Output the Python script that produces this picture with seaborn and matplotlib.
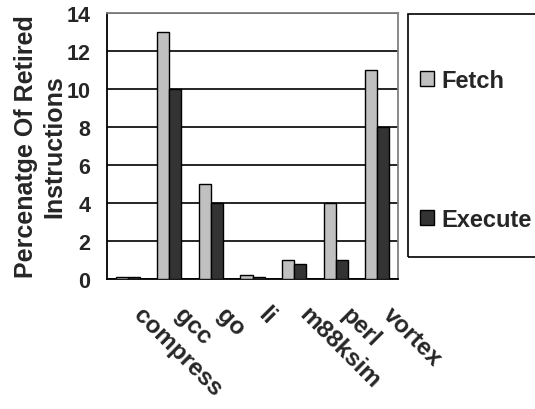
import pandas as pd
import seaborn as sns
import matplotlib.pyplot as plt
import matplotlib.transforms as mtransforms
from matplotlib.patches import Rectangle

# data
benchmarks = ['compress', 'gcc', 'go', 'li', 'm88ksim', 'perl', 'vortex']
fetch = [0.1, 13, 5, 0.2, 1.0, 4, 11]
execute = [0.1, 10, 4, 0.1, 0.8, 1, 8]
series = ['Fetch', 'Execute']
colors = ['#C0C0C0', '#333333']

df = pd.DataFrame({
    'bench': benchmarks * 2,
    'value': fetch + execute,
    'kind': ['Fetch'] * len(benchmarks) + ['Execute'] * len(benchmarks),
})

sns.set_style('white')
plt.rcParams['font.family'] = ['Liberation Sans', 'DejaVu Sans']
plt.rcParams['font.weight'] = 'bold'

fig = plt.figure(figsize=(5.35, 4.1), dpi=100)
ax = fig.add_axes([0.2, 0.317, 0.544, 0.649])

sns.barplot(data=df, x='bench', y='value', hue='kind', hue_order=series,
            palette=colors, width=0.58, edgecolor='black', linewidth=1,
            ax=ax, legend=False, zorder=3)

ax.set_ylim(0, 14)
ax.set_xlim(-0.5, len(benchmarks) - 0.5)
ax.set_yticks(range(0, 15, 2))
ax.yaxis.grid(True, color='black', linewidth=1.2, zorder=0)
ax.set_axisbelow(True)

# ticks between categories
ax.set_xticks(range(len(benchmarks)))
ax.set_xticks([i - 0.5 for i in range(len(benchmarks) + 1)], minor=True)
ax.tick_params(axis='x', which='major', length=0, pad=17)
ax.tick_params(axis='x', which='minor', length=6, width=1.3, color='black', direction='out')
ax.tick_params(axis='y', length=7, width=1.3, color='black', direction='out', labelsize=15.5, pad=5)
ax.set_xticklabels(benchmarks, rotation=-45, ha='left', va='top',
                   rotation_mode='anchor', fontsize=17.5, fontweight='bold')
shift = mtransforms.ScaledTranslation(17 / 100, 0, fig.dpi_scale_trans)
for t in ax.get_xticklabels():
    t.set_transform(t.get_transform() + shift)
for t in ax.get_yticklabels():
    t.set_fontweight('bold')

for s in ['left', 'bottom']:
    ax.spines[s].set_color('black')
    ax.spines[s].set_linewidth(1.3)
for s in ['top', 'right']:
    ax.spines[s].set_color('#808080')
    ax.spines[s].set_linewidth(1.3)

ax.set_xlabel('')
ax.set_ylabel('Percenatge Of Retired\nInstructions', fontsize=18, fontweight='bold',
              linespacing=1.22, labelpad=0)

# legend in a tall box on the right
handles = [Rectangle((0, 0), 1, 1, facecolor=c, edgecolor='black', linewidth=1) for c in colors]
fig.legend(handles, series, loc='center left', bbox_to_anchor=(0.745, 0.632),
           frameon=False, prop={'weight': 'bold', 'size': 17},
           handlelength=0.6, handleheight=0.6, handletextpad=0.3, labelspacing=4.9)
fig.patches.append(Rectangle((408 / 535, 1 - 258 / 410), 130 / 535, 243 / 410,
                             transform=fig.transFigure, fill=False,
                             edgecolor='black', linewidth=1.2))

fig.savefig('out.png', dpi=100)
